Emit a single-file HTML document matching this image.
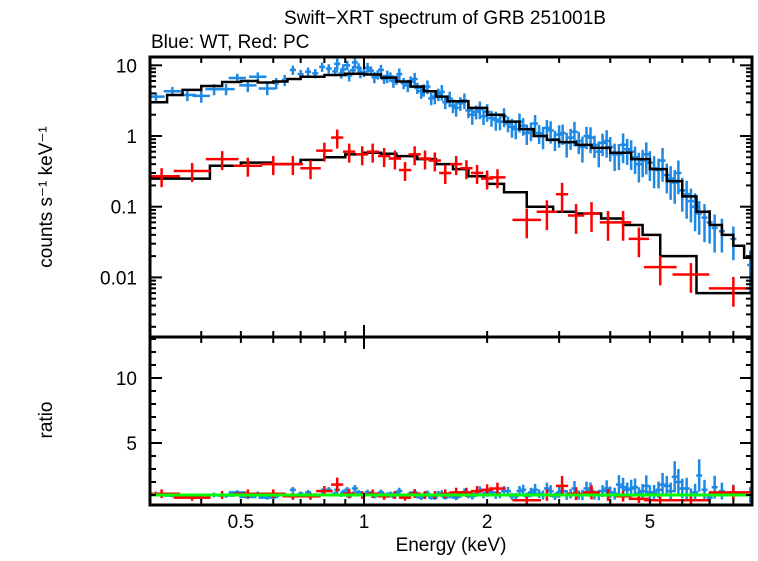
<!DOCTYPE html>
<html><head><meta charset="utf-8"><style>
body{margin:0;background:#fff;font-family:"Liberation Sans",sans-serif}
svg text{font-family:"Liberation Sans",sans-serif}
</style></head><body>
<svg id="chart" width="758" height="556" xmlns="http://www.w3.org/2000/svg">
<text x="445" y="24" font-size="19" text-anchor="middle">Swift−XRT spectrum of GRB 251001B</text>
<text x="151" y="48" font-size="19">Blue: WT, Red: PC</text>
<text x="0" y="0" font-size="19" text-anchor="middle" transform="translate(52,197) rotate(-90)">counts s⁻¹ keV⁻¹</text>
<text x="0" y="0" font-size="19" text-anchor="middle" transform="translate(52,420) rotate(-90)">ratio</text>
<text x="451" y="551" font-size="19" text-anchor="middle">Energy (keV)</text>
<g id="marks"></g>
<g id="axes"></g>
</svg>
<script>
const wtE=[0.31,0.34,0.37,0.40,0.43,0.46,0.49,0.52,0.55,0.58,0.61,0.64,0.67,0.70,0.73,0.76,0.79,0.82,0.85,0.88,0.91,0.94,0.97,1.0,1.04,1.08,1.12,1.16,1.2,1.25,1.3,1.35,1.4,1.46,1.52,1.58,1.65,1.72,1.8,1.88,1.96,2.05,2.15,2.25,2.35,2.45,2.56,2.68,2.8,2.93,3.06,3.2,3.35,3.5,3.66,3.83,4.0,4.2,4.4,4.6,4.8,5.0,5.25,5.5,5.75,6.0,6.3,6.6,7.0,7.5,8.0,8.8,
0.86,0.89,0.92,0.95,0.98,1.02,1.06,1.10,1.14,1.18,1.22,1.28,1.33,1.38,1.43,1.49,1.55,1.62,1.68,1.76,1.84,1.92,2.0,2.1,2.2,2.3,2.4,2.5,2.62,2.74,2.86,3.0,3.13,3.27,3.42,3.58,3.75,3.92,4.1,4.3,4.5,4.7,4.9,5.12,5.37,5.62,5.87,6.15,6.45,6.8,7.2];
const wtVal=[3.6,4.3,3.8,3.7,4.6,4.6,6.6,5.2,6.9,4.7,5.6,6.2,8.6,7.5,8.1,7.7,9.5,9.0,8.2,7.6,10,8.5,9.3,8.0,8.4,7.4,6.4,6.9,6.2,5.6,5.9,4.8,4.5,3.4,3.9,3.0,2.7,2.9,2.3,2.2,1.9,1.8,1.6,1.5,1.25,1.4,1.2,1.1,1.3,0.9,1.1,0.95,0.85,1.0,0.75,0.8,0.7,0.55,0.65,0.5,0.45,0.42,0.33,0.28,0.22,0.17,0.12,0.08,0.06,0.045,0.035,0.015,
10.5,8.8,7.2,11,8.0,9.2,6.8,8.6,7.0,6.0,7.5,5.2,6.4,4.3,5.0,3.6,4.2,3.4,2.5,3.2,2.0,2.4,2.2,1.7,1.9,1.35,1.6,1.1,1.5,1.0,1.2,1.05,0.8,1.15,0.7,0.95,0.6,0.85,0.55,0.75,0.6,0.4,0.55,0.35,0.45,0.25,0.3,0.15,0.1,0.07,0.05];
const wtErr=[0.15,0.15,0.18,0.2,0.18,0.18,0.15,0.2,0.15,0.2,0.18,0.18,0.15,0.15,0.15,0.15,0.15,0.15,0.15,0.15,0.15,0.15,0.15,0.15,0.15,0.15,0.15,0.15,0.15,0.18,0.18,0.18,0.2,0.2,0.2,0.2,0.22,0.22,0.22,0.22,0.25,0.25,0.25,0.25,0.28,0.28,0.3,0.3,0.3,0.32,0.32,0.33,0.35,0.35,0.35,0.35,0.38,0.4,0.4,0.42,0.42,0.45,0.45,0.45,0.5,0.5,0.5,0.5,0.5,0.5,0.5,0.6,
0.18,0.18,0.18,0.18,0.18,0.18,0.18,0.18,0.2,0.2,0.2,0.2,0.22,0.22,0.22,0.22,0.25,0.25,0.25,0.25,0.28,0.28,0.28,0.3,0.3,0.3,0.3,0.32,0.32,0.35,0.35,0.35,0.38,0.38,0.4,0.4,0.4,0.42,0.42,0.45,0.45,0.45,0.48,0.48,0.5,0.5,0.5,0.55,0.55,0.55,0.55];
const wtRatio=[1.1,0.95,0.9,0.8,1.0,0.95,1.2,0.85,1.1,0.8,0.9,1.0,1.4,1.1,1.2,1.0,1.3,1.4,1.1,1.0,1.4,1.1,1.2,1.0,1.1,1.0,0.9,1.1,1.1,0.9,1.1,0.9,1.0,0.8,1.1,0.8,0.9,1.0,0.95,1.1,1.0,1.2,1.0,1.3,0.9,1.4,1.2,1.1,1.5,0.9,1.3,1.1,1.0,1.5,1.0,1.3,1.2,1.8,1.4,1.6,1.3,1.2,1.4,1.7,2.4,1.5,1.0,2.5,0.8,1.3,1.2,1.0,
1.4,1.2,0.9,1.5,1.1,1.2,0.9,1.2,1.0,0.9,1.3,0.9,1.2,0.8,1.1,0.8,1.1,1.0,0.8,1.2,0.9,1.3,1.2,1.0,1.3,0.9,1.3,0.9,1.4,1.0,1.3,1.2,1.0,1.5,1.0,1.4,1.0,1.5,1.1,1.6,1.5,1.1,1.7,1.2,1.8,1.3,2.0,1.5,1.2,1.4,1.6];
const pcE=[0.32,0.38,0.45,0.52,0.6,0.67,0.74,0.8,0.86,0.92,0.99,1.05,1.12,1.19,1.26,1.33,1.41,1.49,1.58,1.68,1.78,1.89,2.0,2.12,2.5,2.8,3.05,3.3,3.6,3.95,4.3,4.7,5.3,6.3,8.0,9.2];
const pcVal=[0.27,0.32,0.47,0.38,0.40,0.40,0.35,0.62,0.95,0.60,0.55,0.60,0.52,0.48,0.33,0.55,0.48,0.45,0.30,0.40,0.35,0.30,0.25,0.26,0.065,0.085,0.15,0.075,0.08,0.06,0.06,0.035,0.014,0.011,0.007,0.014];
const pcHalf=[0.045,0.045,0.04,0.035,0.03,0.025,0.025,0.02,0.015,0.015,0.015,0.015,0.015,0.015,0.015,0.015,0.015,0.015,0.015,0.015,0.015,0.015,0.015,0.02,0.035,0.025,0.015,0.02,0.02,0.02,0.02,0.025,0.04,0.045,0.06,0.005];
const pcRatio=[1.1,0.8,1.0,1.1,1.1,0.9,0.9,1.3,1.8,1.1,1.0,1.1,0.9,1.0,0.8,1.1,1.0,1.0,1.1,1.2,1.2,1.3,1.4,1.5,0.6,1.0,1.7,1.1,1.2,1.0,0.9,0.7,0.6,0.6,1.2,12.8];
const wtModelE=[0.3,0.33,0.36,0.4,0.45,0.5,0.55,0.6,0.65,0.7,0.8,0.9,1.0,1.1,1.2,1.3,1.4,1.5,1.6,1.8,2.0,2.2,2.4,2.6,2.8,3.0,3.3,3.6,4.0,4.5,5.0,5.5,6.0,6.5,7.0,7.5,8.0,8.5,9.5];
const wtModel=[3.0,3.8,4.5,5.1,5.8,6.0,5.7,5.9,6.4,6.9,7.3,7.6,7.4,6.7,5.9,5.0,4.3,3.6,3.1,2.5,2.0,1.6,1.25,1.0,0.88,0.82,0.75,0.68,0.58,0.47,0.34,0.23,0.14,0.085,0.055,0.04,0.028,0.019,0.016];
const pcModelE=[0.3,0.35,0.42,0.5,0.6,0.7,0.8,0.9,1.0,1.1,1.2,1.35,1.5,1.65,1.8,2.0,2.2,2.5,2.9,3.3,3.8,4.3,4.8,5.3,6.5,7.5,9.5];
const pcModel=[0.25,0.25,0.38,0.42,0.40,0.46,0.50,0.55,0.58,0.56,0.52,0.47,0.40,0.34,0.27,0.21,0.16,0.10,0.085,0.08,0.068,0.055,0.04,0.02,0.006,0.006,0.006];
const xTickVals=[0.5,1,2,5];
const yTopTicks=[10,1,0.1,0.01];
const yTopLabels=["10","1","0.1","0.01"];
const yBotTicks=[5,10];

const L=150,R=752,T1=57,B1=337,T2=337,B2=505;
const X=e=>364+409*Math.log10(e);
const Y1=v=>136-70.7*Math.log10(v);
const Y2=r=>508-13*r;
const NS="http://www.w3.org/2000/svg";
const marks=document.getElementById('marks'),axes=document.getElementById('axes');
function mk(tag,at,parent){const el=document.createElementNS(NS,tag);for(const k in at)el.setAttribute(k,at[k]);parent.appendChild(el);return el;}
const clipY=(y,a,b)=>Math.max(a,Math.min(b,y));
const defs=mk('defs',{},marks);
const c1=mk('clipPath',{id:'c1'},defs);mk('rect',{x:L,y:T1,width:R-L,height:B1-T1},c1);
const c2=mk('clipPath',{id:'c2'},defs);mk('rect',{x:L,y:T2,width:R-L,height:B2-T2},c2);
const gTop=mk('g',{'clip-path':'url(#c1)'},marks);
const gBot=mk('g',{'clip-path':'url(#c2)'},marks);

wtE.forEach((e,i)=>{
  const x=X(e),hw=Math.max(3,409*Math.log10(1+(e<0.6?0.05:0.015)));
  const g=mk('g',{stroke:'#1e88e5','stroke-width':2.5},gTop);
  
  
  const y=Y1(wtVal[i]);
  mk('line',{x1:x-hw,x2:x+hw,y1:y,y2:y},g);
  mk('line',{x1:x,x2:x,y1:Y1(wtVal[i]*(1+wtErr[i])),y2:Y1(wtVal[i]*(1-wtErr[i]))},g);
  const g2=mk('g',{stroke:'#1e88e5','stroke-width':2.5},gBot);
  
  
  const yr=Y2(wtRatio[i]);
  mk('line',{x1:x-hw,x2:x+hw,y1:yr,y2:yr},g2);
  mk('line',{x1:x,x2:x,y1:Y2(wtRatio[i]*(1+wtErr[i])),y2:Y2(wtRatio[i]*(1-wtErr[i]))},g2);
});
function step(E,V,col,name){
  let d='';
  for(let i=0;i<E.length-1;i++){const x0=X(E[i]),x1=X(E[i+1]),y=Y1(V[i]);d+=(i?'L':'M')+x0+','+y+'L'+x1+','+y;}
  const p=mk('path',{d:d,fill:'none',stroke:col,'stroke-width':2.5},gTop);
  
  
}
step(wtModelE,wtModel,'#000','wt-model-line');
step(pcModelE,pcModel,'#000','pc-model-line');
pcE.forEach((e,i)=>{
  const x=X(e),x0=X(e/Math.pow(10,pcHalf[i])),x1=X(e*Math.pow(10,pcHalf[i]));
  const err=i>=24?0.45:0.3;
  const g=mk('g',{stroke:'#f00','stroke-width':2.5},gTop);
  
  
  const y=Y1(pcVal[i]);
  mk('line',{x1:x0,x2:x1,y1:y,y2:y},g);
  mk('line',{x1:x,x2:x,y1:Y1(pcVal[i]*(1+err)),y2:Y1(pcVal[i]*(1-err))},g);
  const g2=mk('g',{stroke:'#f00','stroke-width':2.5},gBot);
  
  
  const yr=Y2(pcRatio[i]);
  mk('line',{x1:x0,x2:x1,y1:yr,y2:yr},g2);
  const re=i===pcE.length-1?0.7:err;
  mk('line',{x1:x,x2:x,y1:clipY(Y2(pcRatio[i]*(1+re)),T2+2,B2),y2:Y2(pcRatio[i]*(1-re))},g2);
});
const unity=mk('line',{x1:L,x2:R,y1:Y2(1),y2:Y2(1),stroke:'#00ff00','stroke-width':3},gBot);



[[T1,B1,'top-panel-frame'],[T2,B2,'bottom-panel-frame']].forEach(([t,b,n])=>{
  const r=mk('rect',{x:L,y:t,width:R-L,height:b-t,fill:'none',stroke:'#000','stroke-width':3},axes);
  
  
});
const minorE=[0.3,0.4,0.5,0.6,0.7,0.8,0.9,1,2,3,4,5,6,7,8,9];
minorE.forEach(e=>{
  const x=X(e);if(x<L||x>R)return;
  const len=(e===1)?12:6;
  [[T1,1],[B1,-1],[T2,1],[B2,-1]].forEach(([y,s])=>mk('line',{x1:x,x2:x,y1:y,y2:y+s*len,stroke:'#000','stroke-width':2},axes));
});
xTickVals.forEach(v=>{
  const t=mk('text',{x:X(v),y:528,'font-size':19,'text-anchor':'middle'},axes);t.textContent=String(v);
  
  
});
for(let dec=-3;dec<=1;dec++){for(let m=1;m<10;m++){const v=m*Math.pow(10,dec);const y=Y1(v);if(y<T1||y>B1)continue;
  const len=m===1?12:6;mk('line',{x1:L,x2:L+len,y1:y,y2:y,stroke:'#000','stroke-width':2},axes);mk('line',{x1:R,x2:R-len,y1:y,y2:y,stroke:'#000','stroke-width':2},axes);}}
yTopTicks.forEach((v,i)=>{
  const t=mk('text',{x:137,y:Y1(v)+7,'font-size':19,'text-anchor':'end'},axes);t.textContent=yTopLabels[i];
  
  
});
for(let r=1;r<=13;r++){const y=Y2(r);if(y<T2||y>B2)continue;const len=r%5===0?12:6;
  mk('line',{x1:L,x2:L+len,y1:y,y2:y,stroke:'#000','stroke-width':2},axes);mk('line',{x1:R,x2:R-len,y1:y,y2:y,stroke:'#000','stroke-width':2},axes);}
yBotTicks.forEach(v=>{
  const t=mk('text',{x:137,y:Y2(v)+7,'font-size':19,'text-anchor':'end'},axes);t.textContent=String(v);
  
  
});
</script>
</body></html>
